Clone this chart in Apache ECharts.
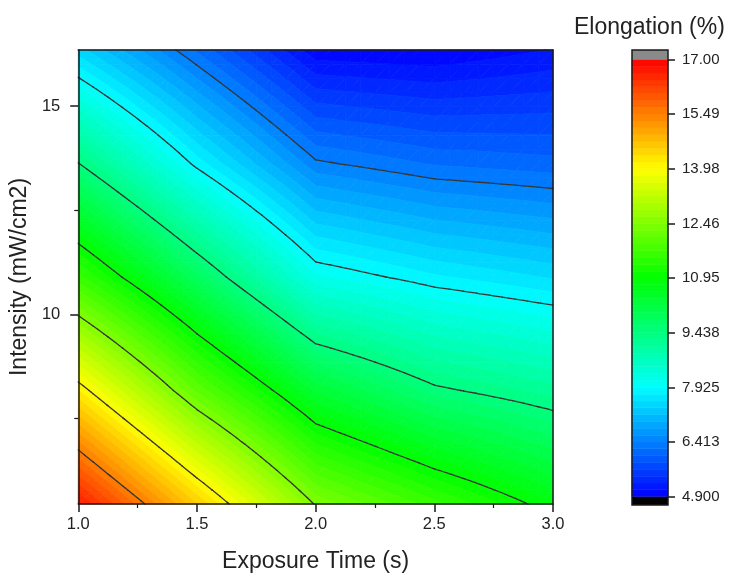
<!DOCTYPE html>
<html>
<head>
<meta charset="utf-8">
<script src="https://cdn.jsdelivr.net/npm/echarts@6/dist/echarts.min.js"></script>
<style>html,body{margin:0;padding:0;background:#fff;}</style>
</head>
<body>
<div id="main" style="width:730px;height:578px;"></div>
<script>
var times = [1.0, 1.5, 2.0, 2.5, 3.0];
var intensities = [5.45, 8.175, 10.9, 13.625, 16.35];
// elongation (%) per intensity row, columns follow times
var elong_5_45  = [16.69, 14.55, 12.43, 11.59, 10.78];
var elong_8_18  = [14.17, 12.04, 10.34, 9.52, 9.15];
var elong_10_90 = [11.58, 9.86, 8.15, 7.77, 7.52];
var elong_13_63 = [9.45, 7.84, 6.46, 6.20, 6.10];
var elong_16_35 = [7.44, 6.19, 4.95, 4.90, 5.10];

var cbTicks = [4.9, 6.4125, 7.925, 9.4375, 10.95, 12.4625, 13.975, 15.4875, 17.0];
var cbTickLabels = ['4.900', '6.413', '7.925', '9.438', '10.95', '12.46', '13.98', '15.49', '17.00'];
var yTicksMajor = [10, 15];
var yTicksMinor = [7.5, 12.5];

var rows = [elong_5_45, elong_8_18, elong_10_90, elong_13_63, elong_16_35];
var FONT = 'Liberation Sans, Arial, sans-serif';
var TXT = '#222';
var SUB = 8; // drawing subdivision of each grid cell

// 8 colour levels between every labelled level
var levels = [];
for (var k = 0; k < cbTicks.length - 1; k++) {
    for (var m = 0; m < 8; m++) {
        levels.push(cbTicks[k] + (cbTicks[k + 1] - cbTicks[k]) * m / 8);
    }
}
levels.push(cbTicks[cbTicks.length - 1]);
var bandData = [];
for (var b = 0; b < levels.length - 1; b++) {
    bandData.push([(levels[b] + levels[b + 1]) / 2, levels[b], levels[b + 1]]);
}
var lineData = cbTicks.slice(1, -1).map(function (v) { return [v, v, v]; });

// drawing mesh: each measured cell shaded bilinearly
var tris = [];
for (var j = 0; j < intensities.length - 1; j++) {
    for (var i = 0; i < times.length - 1; i++) {
        var x0 = times[i], x1 = times[i + 1], y0 = intensities[j], y1 = intensities[j + 1];
        var v00 = rows[j][i], v10 = rows[j][i + 1], v01 = rows[j + 1][i], v11 = rows[j + 1][i + 1];
        var pt = function (a, c) {
            var u = a / SUB, w = c / SUB;
            return {
                x: x0 + (x1 - x0) * u, y: y0 + (y1 - y0) * w,
                v: v00 * (1 - u) * (1 - w) + v10 * u * (1 - w) + v01 * (1 - u) * w + v11 * u * w
            };
        };
        for (var a = 0; a < SUB; a++) {
            for (var c = 0; c < SUB; c++) {
                var p = pt(a, c), q = pt(a + 1, c), r = pt(a, c + 1), s = pt(a + 1, c + 1);
                tris.push([p, q, s], [p, s, r]);
            }
        }
    }
}

function clip(poly, lev, above) {
    var out = [];
    for (var n = 0; n < poly.length; n++) {
        var p = poly[n], q = poly[(n + 1) % poly.length];
        var pin = above ? p.v >= lev : p.v <= lev;
        var qin = above ? q.v >= lev : q.v <= lev;
        if (pin) out.push(p);
        if (pin !== qin) {
            var t = (lev - p.v) / (q.v - p.v);
            out.push({ x: p.x + (q.x - p.x) * t, y: p.y + (q.y - p.y) * t, v: lev });
        }
    }
    return out;
}

function renderBand(params, api) {
    var lo = api.value(1), hi = api.value(2);
    var color = api.visual('color');
    var children = [];
    tris.forEach(function (t) {
        if (t[0].v < lo && t[1].v < lo && t[2].v < lo) return;
        if (t[0].v > hi && t[1].v > hi && t[2].v > hi) return;
        var poly = clip(clip(t, lo, true), hi, false);
        if (poly.length >= 3) {
            children.push({
                type: 'polygon',
                shape: { points: poly.map(function (p) { return api.coord([p.x, p.y]); }) },
                style: { fill: color, stroke: color, lineWidth: 0.8 }
            });
        }
    });
    return { type: 'group', children: children };
}

function renderLine(params, api) {
    var lev = api.value(0) + 1e-9;
    var children = [];
    tris.forEach(function (t) {
        var pts = [];
        for (var n = 0; n < 3; n++) {
            var p = t[n], q = t[(n + 1) % 3];
            if ((p.v - lev) * (q.v - lev) < 0) {
                var s = (lev - p.v) / (q.v - p.v);
                pts.push(api.coord([p.x + (q.x - p.x) * s, p.y + (q.y - p.y) * s]));
            }
        }
        if (pts.length === 2) {
            children.push({
                type: 'line',
                shape: { x1: pts[0][0], y1: pts[0][1], x2: pts[1][0], y2: pts[1][1] },
                style: { stroke: '#363636', lineWidth: 1.3, lineCap: 'round' }
            });
        }
    });
    return { type: 'group', children: children };
}

function renderBar(params, api) {
    var p1 = api.coord([0, api.value(2)]);
    var p2 = api.coord([1, api.value(1)]);
    var color = api.visual('color');
    return {
        type: 'rect',
        shape: { x: p1[0], y: p1[1], width: p2[0] - p1[0], height: p2[1] - p1[1] },
        style: { fill: color, stroke: color, lineWidth: 0.6 }
    };
}

var cbMin = 4.67, cbMax = 17.26;
// below-range cap, above-range cap, outer frame
var capData = [[0, cbMin, cbTicks[0]], [1, cbTicks[cbTicks.length - 1], cbMax], [2, cbMin, cbMax]];
var capColors = ['#000000', '#8a8a8a'];
function renderCap(params, api) {
    var p1 = api.coord([0, api.value(2)]);
    var p2 = api.coord([1, api.value(1)]);
    var shape = { x: p1[0], y: p1[1], width: p2[0] - p1[0], height: p2[1] - p1[1] };
    if (params.dataIndex === 2) {
        return { type: 'rect', z2: 10, shape: shape, style: { fill: 'none', stroke: '#1a1a1a', lineWidth: 1.5 } };
    }
    return { type: 'rect', shape: shape, style: { fill: capColors[params.dataIndex] } };
}

// plain frame axis, fresh objects each time
function frameAxis(gridIndex, position, min, max, showLine) {
    return {
        gridIndex: gridIndex, type: 'value', min: min, max: max, position: position, z: 10,
        axisLine: { show: showLine, onZero: false, lineStyle: { color: '#1a1a1a', width: 1.5 } },
        axisTick: { show: false }, axisLabel: { show: false }, splitLine: { show: false }
    };
}

var myChart = echarts.init(document.getElementById('main'));
var option = {
    animation: false,
    backgroundColor: '#fff',
    title: {
        text: 'Elongation (%)',
        left: 569, top: 11,
        textStyle: { fontFamily: FONT, fontSize: 23, fontWeight: 'normal', color: TXT }
    },
    grid: [
        { left: 77, top: 50, width: 476, height: 456 },
        { left: 632, top: 50, width: 36, height: 455 }
    ],
    visualMap: {
        type: 'continuous', show: false, min: 4.9, max: 17, dimension: 0,
        seriesIndex: [0, 2],
        inRange: { color: ['#0000ff', '#00ffff', '#00ff00', '#ffff00', '#ff0000'] }
    },
    xAxis: [
        {
            gridIndex: 0, type: 'value', min: 1, max: 3, interval: 0.5, position: 'bottom', z: 10,
            axisLine: { onZero: false, lineStyle: { color: '#1a1a1a', width: 1.5 } },
            axisTick: { length: 8, lineStyle: { color: '#1a1a1a', width: 1.5 } },
            minorTick: { show: true, splitNumber: 2, length: 4, lineStyle: { color: '#1a1a1a', width: 1.2 } },
            axisLabel: { formatter: function (v) { return v.toFixed(1); }, fontFamily: FONT, fontSize: 16.5, color: TXT, margin: 12 },
            splitLine: { show: false },
            name: 'Exposure Time (s)', nameLocation: 'middle', nameGap: 46,
            nameTextStyle: { fontFamily: FONT, fontSize: 23, color: TXT }
        },
        frameAxis(0, 'top', 1, 3, true),
        frameAxis(1, 'bottom', 0, 1, false)
    ],
    yAxis: [
        {
            gridIndex: 0, type: 'value', min: 5.45, max: 16.35, position: 'left', z: 10,
            axisLine: { onZero: false, lineStyle: { color: '#1a1a1a', width: 1.5 } },
            axisTick: { customValues: yTicksMajor, length: 8, lineStyle: { color: '#1a1a1a', width: 1.5 } },
            axisLabel: { customValues: yTicksMajor, fontFamily: FONT, fontSize: 16.5, color: TXT, margin: 18 },
            splitLine: { show: false },
            name: 'Intensity (mW/cm2)', nameLocation: 'middle', nameGap: 41, nameRotate: 90,
            nameTextStyle: { fontFamily: FONT, fontSize: 23, color: TXT }
        },
        {
            gridIndex: 0, type: 'value', min: 5.45, max: 16.35, position: 'left', z: 10,
            axisLine: { show: false, onZero: false },
            axisTick: { customValues: yTicksMinor, length: 4, lineStyle: { color: '#1a1a1a', width: 1.2 } },
            axisLabel: { show: false }, splitLine: { show: false }
        },
        frameAxis(0, 'right', 5.45, 16.35, true),
        {
            gridIndex: 1, type: 'value', min: cbMin, max: cbMax, position: 'right', z: 10,
            axisLine: { show: false, onZero: false },
            axisTick: { customValues: cbTicks, length: 7, lineStyle: { color: '#1a1a1a', width: 1.5 } },
            axisLabel: {
                customValues: cbTicks, fontFamily: FONT, fontSize: 15, color: TXT, margin: 14,
                formatter: function (v) {
                    var best = 0;
                    for (var n = 0; n < cbTicks.length; n++) {
                        if (Math.abs(cbTicks[n] - v) < Math.abs(cbTicks[best] - v)) best = n;
                    }
                    return cbTickLabels[best];
                }
            },
            splitLine: { show: false }
        }
    ],
    series: [
        { type: 'custom', name: 'bands', xAxisIndex: 0, yAxisIndex: 0, data: bandData, renderItem: renderBand, silent: true, z: 2 },
        { type: 'custom', name: 'lines', xAxisIndex: 0, yAxisIndex: 0, data: lineData, renderItem: renderLine, silent: true, z: 3 },
        { type: 'custom', name: 'colorbar', xAxisIndex: 2, yAxisIndex: 3, data: bandData, renderItem: renderBar, silent: true, z: 2 },
        { type: 'custom', name: 'caps', xAxisIndex: 2, yAxisIndex: 3, data: capData, renderItem: renderCap, silent: true, z: 3 }
    ]
};
myChart.setOption(option);
</script>
</body>
</html>
